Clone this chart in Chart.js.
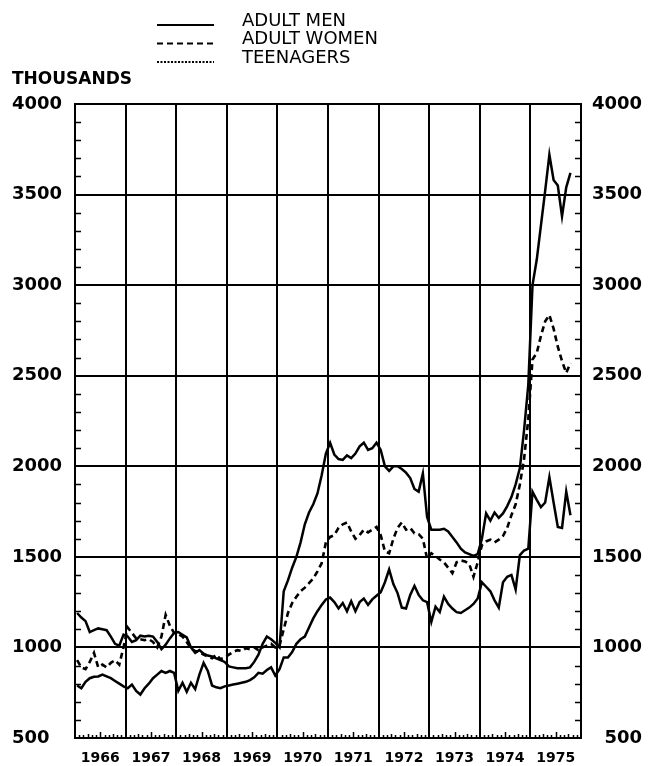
<!DOCTYPE html>
<html>
<head>
<meta charset="utf-8">
<script src="https://cdn.jsdelivr.net/npm/chart.js@4.4.0/dist/chart.umd.min.js"></script>
<style>
html,body{margin:0;padding:0;background:#fff;}
#wrap{width:661px;height:766px;}
</style>
</head>
<body>
<div id="wrap"><canvas id="c" width="661" height="766"></canvas></div>
<script>
// ---- data (thousands, monthly, Jan 1966 .. Oct 1975) ----
const startYear = 1966;
const years = [1966, 1967, 1968, 1969, 1970, 1971, 1972, 1973, 1974, 1975];
const seriesNames = ['ADULT MEN', 'ADULT WOMEN', 'TEENAGERS'];
const unitLabel = 'THOUSANDS';

const men = [
  1190, 1165, 1145, 1085, 1095, 1105, 1100, 1095, 1060, 1020, 1010, 1070,
  1060, 1030, 1040, 1065, 1060, 1065, 1060, 1030, 990, 1015, 1050, 1080,
  1085, 1070, 1055, 1000, 970, 985, 965, 955, 950, 940, 930, 920,
  895, 890, 885, 885, 885, 890, 920, 960, 1020, 1060, 1045, 1025,
  1000, 1310, 1370, 1440, 1500, 1580, 1680, 1745, 1790, 1850, 1950, 2070,
  2130, 2065, 2040, 2035, 2060, 2045, 2070, 2110, 2130, 2090, 2100, 2130,
  2090, 2000, 1975, 2000, 2000, 1985, 1965, 1935, 1875, 1860, 1960, 1720,
  1650, 1650, 1650, 1655, 1640, 1610, 1580, 1545, 1525, 1515, 1505, 1515,
  1600, 1740, 1700, 1745, 1715, 1740, 1780, 1830, 1900, 1990, 2200, 2450,
  3000, 3140, 3330, 3520, 3720, 3580, 3550, 3380, 3540, 3620
];
const women = [
  930, 890, 880, 920, 970, 890, 905, 890, 915, 930, 905, 1000,
  1110, 1080, 1050, 1045, 1040, 1045, 1030, 1000, 1060, 1180, 1120, 1080,
  1075, 1060, 1030, 995, 980, 975, 960, 950, 940, 960, 935, 945,
  960, 975, 985, 980, 995, 990, 1000, 985, 1000, 1010, 1020, 1000,
  1010, 1100, 1190, 1245, 1280, 1310, 1330, 1355, 1380, 1420, 1465, 1580,
  1610, 1620, 1660, 1680, 1690, 1640, 1600, 1620, 1650, 1635, 1650, 1665,
  1620, 1530, 1520, 1600, 1660, 1690, 1650, 1660, 1630, 1625, 1600, 1490,
  1520, 1505, 1485, 1470, 1440, 1410, 1470, 1480, 1475, 1460, 1390, 1470,
  1565, 1585, 1595, 1580, 1595, 1615, 1660, 1730, 1790, 1900, 2040, 2260,
  2590, 2625, 2720, 2800, 2835, 2760, 2660, 2580, 2515, 2570
];
const teens = [
  790, 775, 810, 830, 838, 840, 850, 840, 830, 815, 800, 785,
  775, 795, 760, 740, 775, 800, 830, 850, 870, 860, 870, 860,
  760, 805, 755, 805, 770, 850, 915, 870, 790, 780, 775, 785,
  790, 795, 800, 805, 810, 820, 835, 860, 855, 875, 890, 845,
  880, 945, 945, 975, 1020, 1045, 1060, 1110, 1160, 1200, 1235, 1265,
  1275, 1250, 1215, 1245, 1200, 1255, 1200, 1250, 1270, 1235, 1265, 1285,
  1305, 1360, 1430, 1350, 1300, 1220, 1215, 1290, 1340, 1290, 1260, 1250,
  1140, 1225, 1195, 1280, 1240, 1215, 1195, 1190, 1205, 1220, 1240, 1270,
  1360, 1335, 1310, 1260, 1220, 1360, 1390, 1400, 1320, 1510, 1535, 1545,
  1860, 1815, 1775, 1800, 1940, 1800, 1665, 1660, 1860, 1730
];

const toPoints = arr => arr.map((v, i) => ({ x: startYear + (i + 0.5) / 12, y: v }));
const endYear = years[years.length - 1] + 1;

const FONT = "'DejaVu Sans', sans-serif";

const decor = {
  id: 'decor',
  afterDraw(chart) {
    const { ctx, chartArea: a, scales } = chart;
    const x = scales.x, y = scales.y;
    ctx.save();
    ctx.strokeStyle = '#000';
    ctx.lineWidth = 1.5;
    // minor y ticks (inward, both sides)
    ctx.beginPath();
    for (let v = y.min; v <= y.max; v += 100) {
      if (v % 500 === 0) continue;
      const py = Math.round(y.getPixelForValue(v)) + 0.5;
      ctx.moveTo(a.left, py); ctx.lineTo(a.left + 6, py);
      ctx.moveTo(a.right - 6, py); ctx.lineTo(a.right, py);
    }
    // monthly x ticks (inward from bottom)
    for (const yr of years) {
      for (let m = 1; m < 12; m++) {
        const px = Math.round(x.getPixelForValue(yr + m / 12)) + 0.5;
        const len = m === 6 ? 6 : (m % 3 === 0 ? 4 : 3);
        ctx.moveTo(px, a.bottom); ctx.lineTo(px, a.bottom - len);
      }
    }
    ctx.stroke();

    // legend
    const dashes = [[], [6, 4], [2, 1.5]];
    const widths = [1.8, 2, 1.8];
    ctx.fillStyle = '#000';
    ctx.font = "18px " + FONT;
    ctx.textBaseline = 'middle';
    ctx.textAlign = 'left';
    seriesNames.forEach((name, i) => {
      const ly = 25 + i * 18.5;
      ctx.beginPath();
      ctx.setLineDash(dashes[i]);
      ctx.lineWidth = widths[i];
      ctx.moveTo(157, ly); ctx.lineTo(214, ly);
      ctx.stroke();
      ctx.setLineDash([]);
      ctx.fillText(name, 242, ly - 4);
    });
    // unit label
    ctx.font = "bold 17px " + FONT;
    ctx.fillText(unitLabel, 12, 80);
    ctx.restore();
  }
};

new Chart(document.getElementById('c'), {
  type: 'line',
  data: {
    datasets: [
      { label: seriesNames[0], data: toPoints(men), borderColor: '#000', borderWidth: 2.5, pointRadius: 0, tension: 0 },
      { label: seriesNames[1], data: toPoints(women), borderColor: '#000', borderWidth: 2.6, borderDash: [6, 4], pointRadius: 0, tension: 0 },
      { label: seriesNames[2], data: toPoints(teens), borderColor: '#000', borderWidth: 2.5, pointRadius: 0, tension: 0 }
    ]
  },
  options: {
    responsive: false,
    animation: false,
    devicePixelRatio: 1,
    layout: { padding: { top: 104, left: 12, right: 19, bottom: 0 } },
    plugins: { legend: { display: false }, tooltip: { enabled: false } },
    scales: {
      x: {
        type: 'linear',
        min: startYear,
        max: endYear,
        afterFit(s) { s.height = 28; },
        border: { display: true, color: '#000', width: 2 },
        grid: { color: '#000', lineWidth: 2, drawTicks: false },
        ticks: {
          stepSize: 1,
          autoSkip: false,
          maxRotation: 0,
          padding: 12,
          labelOffset: 25.3,
          color: '#000',
          font: { family: FONT, size: 14, weight: 'bold' },
          callback: v => (v < endYear ? String(v) : '')
        }
      },
      y: {
        position: 'left',
        min: 500,
        max: 4000,
        afterFit(s) { s.width = 63; },
        border: { display: true, color: '#000', width: 2 },
        grid: { color: '#000', lineWidth: 2, drawTicks: false },
        ticks: {
          stepSize: 500,
          crossAlign: 'far',
          color: '#000',
          font: { family: FONT, size: 18, weight: 'bold' },
          callback: v => String(v)
        }
      },
      y2: {
        position: 'right',
        min: 500,
        max: 4000,
        afterFit(s) { s.width = 61; },
        border: { display: true, color: '#000', width: 2 },
        grid: { drawOnChartArea: false, drawTicks: false },
        ticks: {
          stepSize: 500,
          crossAlign: 'far',
          color: '#000',
          font: { family: FONT, size: 18, weight: 'bold' },
          callback: v => String(v)
        }
      }
    }
  },
  plugins: [decor]
});
</script>
</body>
</html>
